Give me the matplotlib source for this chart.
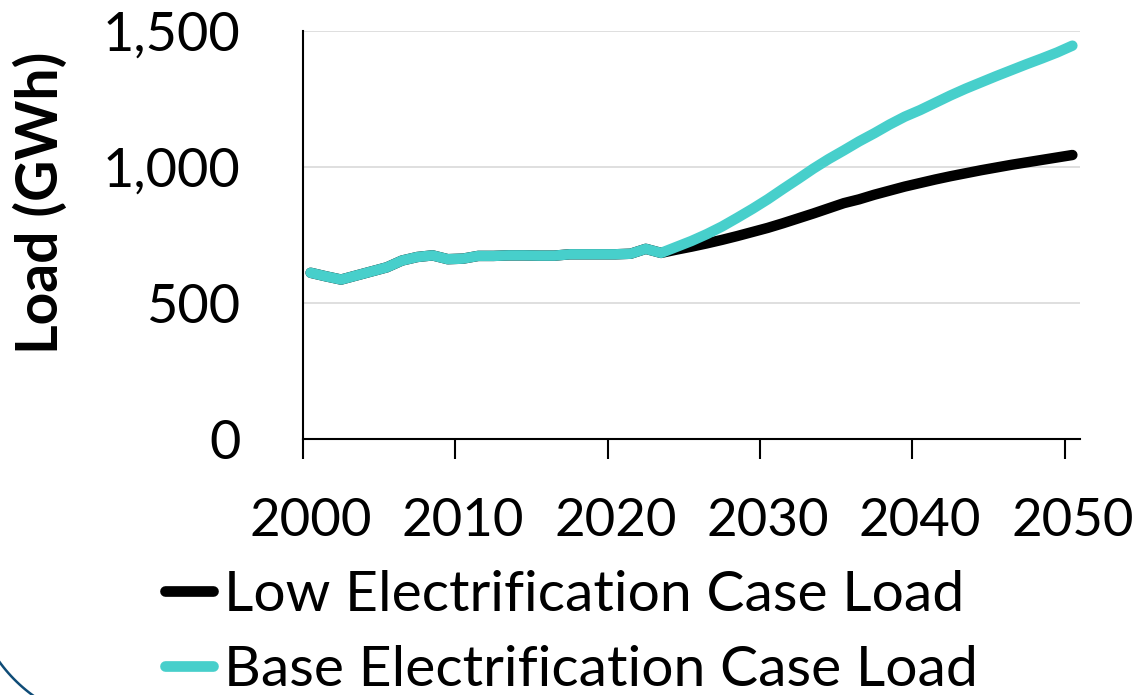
import matplotlib
matplotlib.use("Agg")
import numpy as np
import matplotlib.pyplot as plt
from matplotlib.lines import Line2D
from matplotlib.ticker import FixedLocator, FuncFormatter, NullFormatter

plt.rcParams['font.family'] = ['Lato', 'DejaVu Sans']

# Annual load, GWh
years = list(range(2000, 2051))
history = [610, 597, 585, 600, 615, 630, 655, 668, 674, 660,
           662, 672, 672, 674, 674, 673, 673, 678, 678, 678,
           678, 680, 698, 683]                      # 2000-2023
low_case = [695, 706, 718, 731, 745, 760, 775, 792, 810, 828,
            847, 866, 880, 897, 912, 927, 940, 953, 965, 976,
            987, 997, 1007, 1016, 1025, 1034, 1043]  # 2024-2050
base_case = [705, 727, 752, 780, 812, 845, 880, 918, 955, 993,
             1028, 1060, 1093, 1123, 1155, 1184, 1208, 1235, 1262, 1287,
             1310, 1333, 1355, 1377, 1398, 1420, 1445]  # 2024-2050
series_labels = ["Low Electrification Case Load", "Base Electrification Case Load"]
y_ticks = [0, 500, 1000, 1500]
x_label_years = [2000, 2010, 2020, 2030, 2040, 2050]

BLACK = "#000000"
TEAL = "#47CFCB"

W, H = 1138, 695
fig = plt.figure(figsize=(W / 100, H / 100), dpi=100)
ax = fig.add_axes([303 / W, (H - 438.7) / H, (1080 - 303) / W, (438.7 - 30.7) / H])

ax.plot(years, history + low_case, color=BLACK, lw=7.5,
        solid_capstyle="round", solid_joinstyle="round", label=series_labels[0], zorder=3)
ax.plot(years, history + base_case, color=TEAL, lw=7.5,
        solid_capstyle="round", solid_joinstyle="round", label=series_labels[1], zorder=4)

ax.set_xlim(1999.5, 2050.5)
ax.set_ylim(0, 1500)

# category-style axis: tick marks between years, labels centred on years
ax.xaxis.set_major_locator(FixedLocator([y - 0.5 for y in x_label_years]))
ax.xaxis.set_major_formatter(NullFormatter())
ax.xaxis.set_minor_locator(FixedLocator(x_label_years))
ax.xaxis.set_minor_formatter(FuncFormatter(lambda v, p: f"{int(round(v))}"))
ax.tick_params(axis="x", which="major", direction="out", length=14.5, width=1.5, color=BLACK)
ax.tick_params(axis="x", which="minor", length=0, pad=43, labelsize=38)

ax.set_yticks(y_ticks)
ax.yaxis.set_major_formatter(FuncFormatter(lambda v, p: f"{int(v):,}"))
ax.tick_params(axis="y", length=0, pad=45, labelsize=39)

ax.yaxis.grid(True, color="#d9d9d9", lw=1.2, zorder=0)
ax.set_axisbelow(True)
for s in ("top", "right"):
    ax.spines[s].set_visible(False)
for s in ("left", "bottom"):
    ax.spines[s].set_color(BLACK)
    ax.spines[s].set_linewidth(1.5)
    ax.spines[s].set_zorder(2)

fig.text(41 / W, 1 - 203 / H, "Load (GWh)", rotation=90, fontsize=41,
         fontweight="bold", ha="center", va="center")

leg = ax.legend(loc="upper left", bbox_to_anchor=(165 / W, 1 - 570 / H),
                bbox_transform=fig.transFigure, frameon=False, fontsize=41,
                handlelength=0.84, handletextpad=0.2, labelspacing=0.42,
                borderpad=0, borderaxespad=0)
for h in leg.get_lines():
    h.set_linewidth(7.7)
    h.set_solid_capstyle("round")

# rounded border of the surrounding panel
t = np.linspace(np.pi * 0.95, np.pi * 1.45, 60)
cx, cy, r = 121, 574, 150
fig.add_artist(Line2D(cx + r * np.cos(t), H - (cy - r * np.sin(t)),
                      transform=None, color="#0f4c77", lw=1.8))

fig.savefig("out.png", dpi=100)
